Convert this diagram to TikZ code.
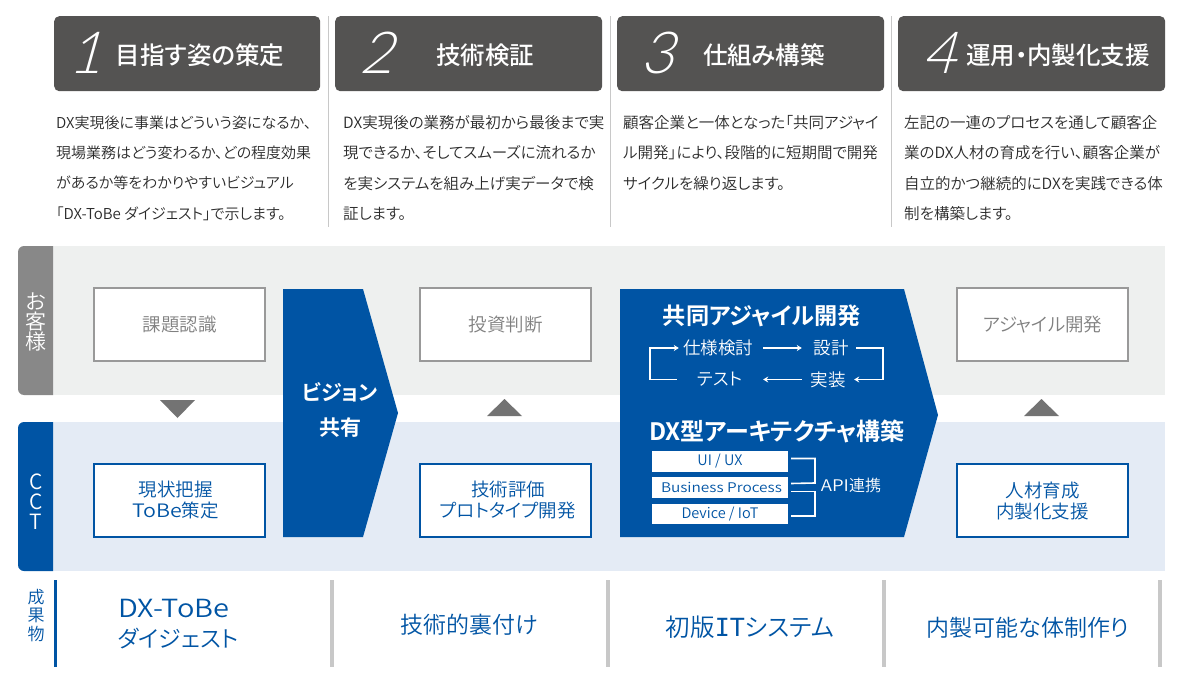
\documentclass[tikz,border=0pt]{standalone}
\usepackage{fontspec}
\setmainfont{Noto Sans CJK JP DemiLight}[BoldFont={Noto Sans CJK JP Bold},RawFeature={+palt}]
\newfontfamily\midfont{Noto Sans CJK JP Medium}[RawFeature={+palt}]
\newfontfamily\widefont{Noto Sans CJK JP DemiLight}[FakeStretch=1.16]
\newfontfamily\itfont{DejaVu Sans Mono}
\newfontfamily\numfont{Lato Light}[FakeSlant=0.28]
\usetikzlibrary{positioning}
\usetikzlibrary{arrows.meta}
\definecolor{cctblue}{HTML}{0054A4}
\definecolor{headgray}{HTML}{545352}
\definecolor{tabgray}{HTML}{888888}
\definecolor{bandgray}{HTML}{EEF0EF}
\definecolor{bandblue}{HTML}{E4EBF5}
\definecolor{boxgray}{HTML}{999999}
\definecolor{labelgray}{HTML}{808080}
\definecolor{rulegray}{HTML}{C8C8C8}
\definecolor{textgray}{HTML}{2A2A2A}
\tikzset{
	headbox/.style={fill=headgray,rounded corners=5pt,minimum height=75pt,inner sep=0pt,anchor=north west},
	headnum/.style={text=white,font=\fontsize{58}{58}\numfont\selectfont},
	headtitle/.style={text=white,font=\fontsize{24.5}{24}\midfont\selectfont},
	bodytext/.style={text=textgray,anchor=west,align=left,inner sep=0pt,font=\fontsize{15.5}{30.3}\selectfont},
	custbox/.style={draw=boxgray,line width=2pt,fill=white,minimum width=171pt,minimum height=73pt,inner sep=0pt,text=labelgray,font=\fontsize{18.5}{21}\selectfont},
	cctbox/.style={draw=cctblue,line width=2pt,fill=white,minimum width=171pt,minimum height=73pt,inner sep=0pt,text=cctblue,align=center,font=\fontsize{18.5}{21}\selectfont},
	tabtext/.style={text=white,align=center,inner sep=0pt,font=\fontsize{21}{20}\selectfont},
	flowtext/.style={text=white,inner sep=0pt,minimum height=20pt,font=\fontsize{17.5}{20}\selectfont},
	layerbox/.style={fill=white,minimum width=136pt,minimum height=20.5pt,inner sep=0pt,text=cctblue,font=\fontsize{14.5}{16}\selectfont},
	resulttext/.style={text=cctblue,inner sep=0pt,font=\fontsize{23}{30}\selectfont},
	flowline/.style={draw=white,line width=1.6pt,-{Stealth[length=5pt,width=6pt]}},
	brace/.style={draw=white,line width=1.6pt}
}
\begin{document}
\begin{tikzpicture}[x=1pt,y=-1pt]
	\useasboundingbox (0,0) rectangle (1179,690);
	% top row
	\node[headbox,minimum width=266pt] (head1) at (54,16) {};
	\node[headbox,minimum width=267pt] (head2) at (335,16) {};
	\node[headbox,minimum width=267pt] (head3) at (617,16) {};
	\node[headbox,minimum width=267pt] (head4) at (898,16) {};
	\node[headnum] (num1) at (85,53) {1};
	\node[headnum] (num2) at (376,53) {2};
	\node[headnum] (num3) at (657,53) {3};
	\node[headnum] (num4) at (939,53) {4};
	\node[headtitle] (title1) at (200,55) {目指す姿の策定};
	\node[headtitle] (title2) at (485,55) {技術検証};
	\node[headtitle] (title3) at (764,55) {仕組み構築};
	\node[headtitle] (title4) at (1058,55) {運用・内製化支援};
	\node[bodytext,font=\fontsize{15}{30.3}\selectfont] (body1) at (56,168) {DX実現後に事業はどういう姿になるか、\\現場業務はどう変わるか、どの程度効果\\があるか等をわかりやすいビジュアル\\「DX-ToBe ダイジェスト」で示します。};
	\node[bodytext] (body2) at (343,168) {DX実現後の業務が最初から最後まで実\\現できるか、そしてスムーズに流れるか\\を実システムを組み上げ実データで検\\証します。};
	\node[bodytext] (body3) at (623,153) {顧客企業と一体となった「共同アジャイ\\ル開発」により、段階的に短期間で開発\\サイクルを繰り返します。};
	\node[bodytext] (body4) at (904,168) {左記の一連のプロセスを通して顧客企\\業のDX人材の育成を行い、顧客企業が\\自立的かつ継続的にDXを実践できる体\\制を構築します。};
	\fill[rulegray] (327.5,16) rectangle (329,227);
	\fill[rulegray] (609.5,16) rectangle (611,227);
	\fill[rulegray] (890.5,16) rectangle (892,227);
	% bands
	\fill[bandgray] (53,246) rectangle (1165,395);
	\fill[bandblue] (53,422) rectangle (1165,571);
	\fill[tabgray] (53,246) [rounded corners=6pt] -- (18,246) -- (18,395) [sharp corners] -- (53,395) -- cycle;
	\fill[cctblue] (53,422) [rounded corners=6pt] -- (18,422) -- (18,571) [sharp corners] -- (53,571) -- cycle;
	\node[tabtext] (cust) at (36,322) {お\\客\\様};
	\node[tabtext] (cct) at (36,502) {C\\C\\T};
	% boxes
	\node[custbox] (issue) at (179.5,324.5) {課題認識};
	\node[custbox] (invest) at (505.5,324.5) {\raisebox{-1.5pt}{投資判断}};
	\node[custbox] (agile) at (1042.5,324.5) {\raisebox{-1.5pt}{アジャイル開発}};
	\node[cctbox] (asis) at (179.5,500.5) {現状把握\hspace*{8pt}\\{\widefont ToBe}策定\hspace*{8pt}};
	\node[cctbox] (proto) at (505.5,500.5) {\hspace*{5pt}技術評価\\\hspace*{5pt}プロトタイプ開発};
	\node[cctbox] (talent) at (1042.5,500.5) {人材育成\\内製化支援};
	\fill[black!55] (160,400) -- (195,400) -- (177.5,418) -- cycle;
	\fill[black!55] (487,416) -- (522,416) -- (504.5,399) -- cycle;
	\fill[black!55] (1024,416) -- (1059,416) -- (1041.5,399) -- cycle;
	% chevrons
	\fill[cctblue] (283,289) -- (363,289) -- (398,413) -- (363,537) -- (283,537) -- cycle;
	\fill[cctblue] (620,289) -- (904,289) -- (938,415) -- (904,537) -- (620,537) -- cycle;
	\node[text=white,align=center,inner sep=0pt,font=\fontsize{21}{35}\selectfont\bfseries] (vision) at (340,410) {ビジョン\\共有};
	\node[text=white,inner sep=0pt,font=\fontsize{23.2}{24}\selectfont\bfseries] (joint) at (762,316) {共同アジャイル開発};
	\node[flowtext,minimum width=78pt] (spec) at (718,348) {仕様検討};
	\node[flowtext,minimum width=50pt] (design) at (831,348) {設計};
	\node[flowtext,minimum width=52pt] (impl) at (828,379.5) {実装};
	\node[flowtext,minimum width=86pt] (test) at (720,379.5) {テスト};
	\begin{scope}[every path/.style={flowline}]
		\draw (test.west) -- ++(-27,0) |- (spec.west);
		\draw[shorten <=6pt,shorten >=4pt] (spec.east) -- (design.west);
		\draw (design.east) -- ++(27,0) |- (impl.east);
		\draw (impl.west) -- (test.east);
	\end{scope}
	\node[text=white,inner sep=0pt,font=\fontsize{24}{24}\selectfont\bfseries] (archi) at (777,431) {DX型アーキテクチャ構築};
	\node[layerbox] (ui) at (720,461.5) {UI / UX};
	\node[layerbox] (biz) at (720,487.5) {\hspace*{3pt}{\widefont\fontsize{13.3}{16}\selectfont Business Process}};
	\node[layerbox] (dev) at (720,514) {Device / IoT};
	\draw[brace] ([xshift=3pt,yshift=3pt]ui.east) -| (815,483) -- ([xshift=3pt,yshift=4pt]biz.east);
	\draw[brace] ([xshift=3pt,yshift=-4pt]biz.east) -| (815,516) -- ([xshift=3pt,yshift=-2pt]dev.east);
	\node[text=white,inner sep=0pt,font=\fontsize{16}{18}\selectfont] (api) at (851,485) {{\widefont API}連携};
	% results
	\node[text=cctblue,align=center,inner sep=0pt,font=\fontsize{17}{18.5}\selectfont] (result) at (36,615.5) {成\\果\\物};
	\fill[cctblue] (54,580) rectangle (57,667);
	\fill[rulegray] (330,580) rectangle (334,667);
	\fill[rulegray] (606,580) rectangle (610,667);
	\fill[rulegray] (882,580) rectangle (886,667);
	\fill[rulegray] (1158,580) rectangle (1162,667);
	\node[resulttext,font=\fontsize{25}{25}\widefont\selectfont] (res1a) at (174,609) {DX-ToBe};
	\node[resulttext,font=\fontsize{23}{24}\selectfont] (res1b) at (178,639) {ダイジェスト};
	\node[resulttext] (res2) at (469,625) {技術的裏付け};
	\node[resulttext,font=\fontsize{24.5}{30}\selectfont] (res3) at (750,627) {初版{\itfont\fontsize{25}{25}\selectfont IT}システム};
	\node[resulttext] (res4) at (1028,628) {内製可能な体制作り};
\end{tikzpicture}
\end{document}
